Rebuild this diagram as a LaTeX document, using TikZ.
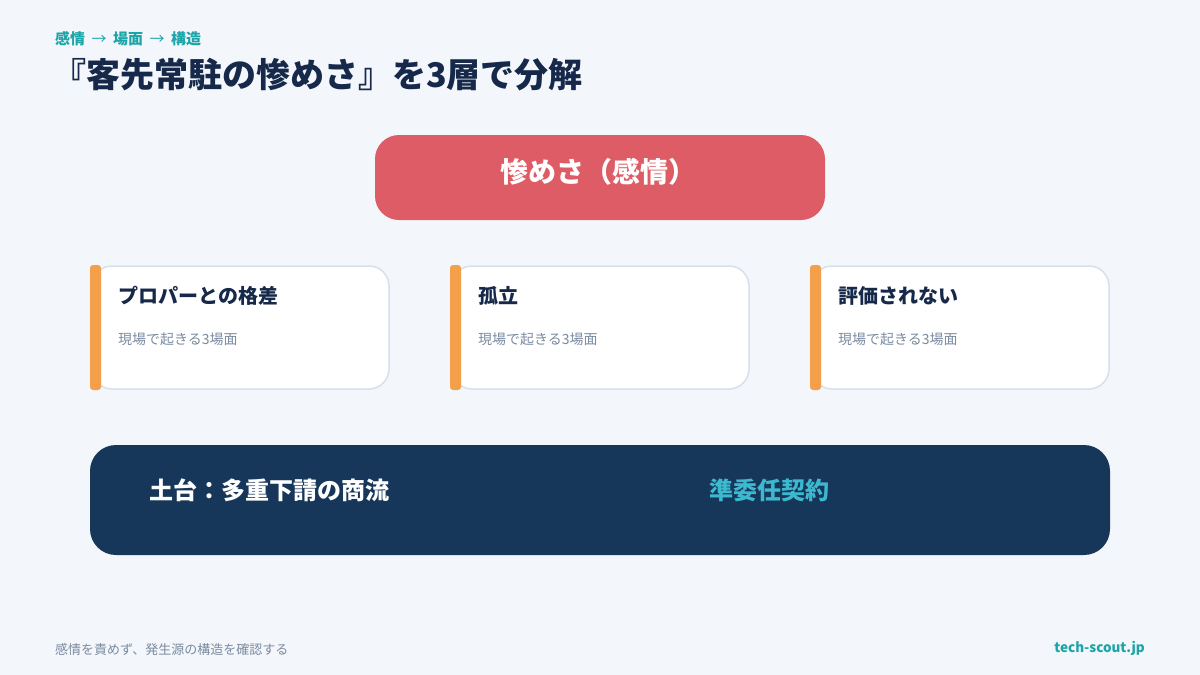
\documentclass[tikz,border=0pt]{standalone}
\usepackage{fontspec}
\setmainfont{Noto Sans CJK JP}
\usetikzlibrary{positioning}

\definecolor{pagebg}{HTML}{F3F6FA}
\definecolor{feelred}{HTML}{DE5C65}
\definecolor{basenavy}{HTML}{17375A}
\definecolor{barorange}{HTML}{F4A04B}
\definecolor{accteal}{HTML}{1BA5A8}
\definecolor{inkdark}{HTML}{16294A}
\definecolor{inkgray}{HTML}{7B8BA1}
\definecolor{cardline}{HTML}{D6E1EC}
\definecolor{lightteal}{HTML}{3CB9CF}

\tikzset{
  card/.style={fill=white, draw=cardline, line width=1.5pt, rounded corners=20pt},
  cardbar/.style={fill=barorange, rounded corners=3pt},
  cardtitle/.style={anchor=west, inner sep=0pt, text=inkdark, font=\fontsize{20}{24}\selectfont\bfseries},
  cardnote/.style={anchor=west, inner sep=0pt, text=inkgray, font=\fontsize{14}{16}\selectfont}
}

\begin{document}
\begin{tikzpicture}[x=1pt, y=-1pt]
% page
\useasboundingbox (0,0) rectangle (1200,675);
\fill[pagebg] (0,0) rectangle (1200,675);

% heading
\node (kicker) [anchor=west, inner sep=0pt, text=accteal, font=\fontsize{15}{18}\selectfont\bfseries]
  at (55,39) {感情\hspace{6.5pt}{\mdseries →}\hspace{6.5pt}場面\hspace{6.5pt}{\mdseries →}\hspace{6.5pt}構造};
\node (title) [anchor=west, inner sep=0pt, text=inkdark, font=\fontsize{34}{38}\selectfont\bfseries]
  at (52,75) {『客先常駐の惨めさ』を3層で分解};

% top layer: the feeling
\fill[feelred, rounded corners=24pt] (375,135) rectangle (825,220);
\node (feeling) [inner sep=0pt, text=white, font=\fontsize{28}{32}\selectfont\bfseries]
  at (598,172) {惨めさ（感情）};

% middle layer: the three scenes
\draw[card] (92,266) rectangle (389,389);
\fill[cardbar] (90,265) rectangle (101,390);
\node (gap) [cardtitle] at (118,296) {プロパーとの格差};
\node (gapnote) [cardnote] at (118,339) {現場で起きる3場面};

\draw[card] (452,266) rectangle (749,389);
\fill[cardbar] (450,265) rectangle (461,390);
\node (alone) [cardtitle] at (478,296) {孤立};
\node (alonenote) [cardnote] at (478,339) {現場で起きる3場面};

\draw[card] (812,266) rectangle (1109,389);
\fill[cardbar] (810,265) rectangle (821,390);
\node (unrated) [cardtitle] at (838,296) {評価されない};
\node (unratednote) [cardnote] at (838,339) {現場で起きる3場面};

% bottom layer: the structure
\fill[basenavy, rounded corners=26pt] (90,445) rectangle (1110,555);
\node (base) [anchor=west, inner sep=0pt, text=white, font=\fontsize{24}{28}\selectfont\bfseries]
  at (149,490) {土台：多重下請の商流};
\node (contract) [anchor=west, inner sep=0pt, text=lightteal, font=\fontsize{24}{28}\selectfont\bfseries]
  at (709,490) {準委任契約};

% footer
\node (footnote) [anchor=west, inner sep=0pt, text=inkgray, font=\fontsize{13}{16}\selectfont]
  at (55,650) {感情を責めず、発生源の構造を確認する};
\node (site) [anchor=east, inner sep=0pt, text=accteal, font=\fontsize{13.5}{16}\selectfont\bfseries]
  at (1145,648) {tech-scout.jp};
\end{tikzpicture}
\end{document}
